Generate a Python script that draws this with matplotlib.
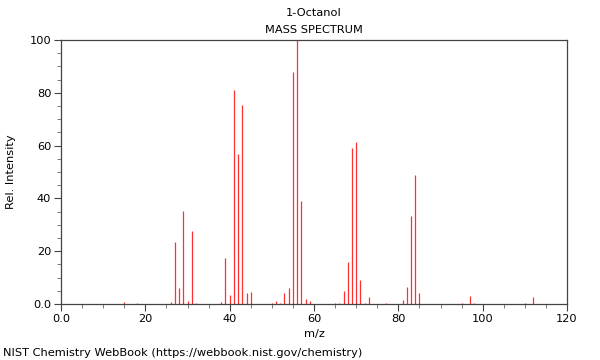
import matplotlib
matplotlib.use("Agg")
import matplotlib.pyplot as plt
from matplotlib.ticker import MultipleLocator, FuncFormatter

title = "1-Octanol"
subtitle = "MASS SPECTRUM"
footer = "NIST Chemistry WebBook (https://webbook.nist.gov/chemistry)"

mz = [15, 18, 26, 27, 28, 29, 30, 31, 32, 38, 39, 40, 41, 42, 43, 44, 45,
      50, 51, 52, 53, 54, 55, 56, 57, 58, 59, 65, 66, 67, 68, 69, 70, 71,
      72, 73, 77, 81, 82, 83, 84, 85, 95, 97, 98, 110, 112]
intensity = [0.8, 0.5, 0.9, 23.5, 6.2, 35.2, 1.0, 27.8, 0.3, 0.6, 17.4, 3.4,
             81.1, 56.7, 75.3, 4.0, 4.4, 0.5, 1.0, 0.5, 4.2, 5.9, 87.9, 100.0,
             38.9, 2.0, 1.0, 0.5, 0.5, 4.9, 16.0, 59.1, 61.4, 9.1, 0.5, 2.7,
             0.3, 1.4, 6.4, 33.3, 49.0, 4.0, 0.3, 3.2, 0.5, 0.3, 2.5]

x_ticks = [0, 20, 40, 60, 80, 100, 120]
y_ticks = [0, 20, 40, 60, 80, 100]

fs = 8.2
fig = plt.figure(figsize=(6, 3.6), dpi=100)
ax = fig.add_axes([61/600, 1-304/360, (567-61)/600, (304-40)/360])

ax.vlines(mz, 0, intensity, colors="#ff3030", linewidth=0.9)

ax.set_xlim(0, 120)
ax.set_ylim(0, 100)
ax.set_xticks(x_ticks)
ax.set_yticks(y_ticks)
ax.xaxis.set_minor_locator(MultipleLocator(5))
ax.yaxis.set_minor_locator(MultipleLocator(5))
fmt = FuncFormatter(lambda v, p: "0.0" if v == 0 else f"{int(v)}")
ax.xaxis.set_major_formatter(fmt)
ax.yaxis.set_major_formatter(fmt)

for s in ax.spines.values():
    s.set_color("#444444")
    s.set_linewidth(0.9)
ax.tick_params(which="major", length=5, width=0.8, color="#444444",
               labelsize=fs, direction="out", pad=2)
ax.tick_params(which="minor", length=3, width=0.6, color="#666666",
               direction="out")

ax.set_xlabel("m/z", fontsize=fs, labelpad=4)
ax.set_ylabel("Rel. Intensity", fontsize=fs, labelpad=10)

fig.text(314/600, 1-13/360, title, ha="center", va="center", fontsize=fs)
fig.text(314/600, 1-30/360, subtitle, ha="center", va="center", fontsize=fs)
fig.text(3/600, 1-353/360, footer, ha="left", va="center", fontsize=fs)

fig.savefig("out.png", dpi=100)
